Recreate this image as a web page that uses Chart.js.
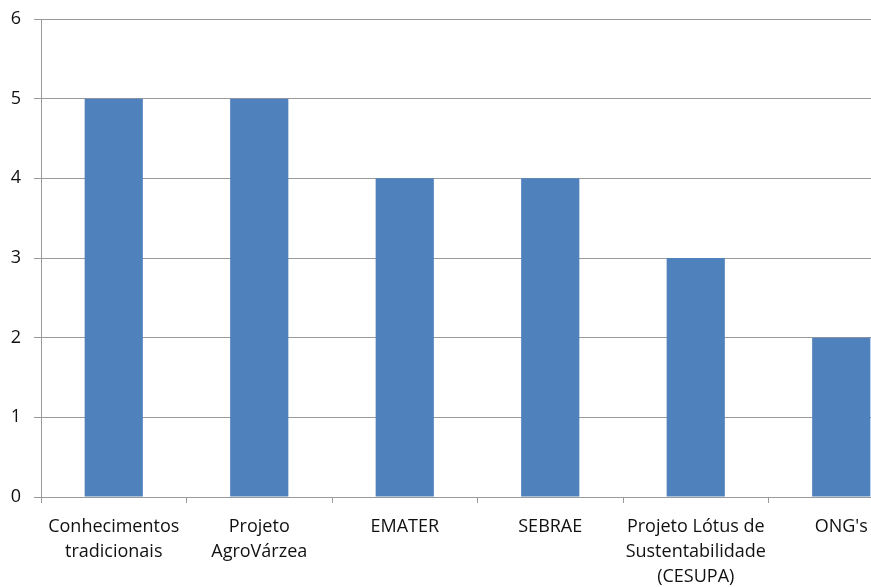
<!DOCTYPE html>
<html>
<head>
<meta charset="utf-8">
<script src="https://cdn.jsdelivr.net/npm/chart.js@4"></script>
<style>
  html, body { margin:0; padding:0; background:#fff; overflow:hidden; }
  #wrap { width:940px; height:587px; }
</style>
</head>
<body>
<div id="wrap"><canvas id="grafico" width="940" height="587"></canvas></div>
<script>
// dados do gráfico
const categorias = [
    ["Conhecimentos", "tradicionais"],
    ["Projeto", "AgroVárzea"],
    "EMATER",
    "SEBRAE",
    ["Projeto Lótus de", "Sustentabilidade", "(CESUPA)"],
    "ONG's"
];
const valores = [5, 5, 4, 4, 3, 2];
const eixoY = { min: 0, max: 6, passo: 1 };

const corLinha = '#9a9a9a';
const familia = "'Open Sans', 'DejaVu Sans', sans-serif";

new Chart(document.getElementById("grafico"), {
    type: "bar",
    data: {
        labels: categorias,
        datasets: [{
            data: valores,
            backgroundColor: '#4F81BD',
            borderWidth: 0,
            barPercentage: 0.4,
            categoryPercentage: 1
        }]
    },
    options: {
        responsive: false,
        animation: false,
        layout: { padding: { top: 19, right: 26, left: 0, bottom: 0 } },
        plugins: { legend: { display: false }, tooltip: { enabled: false } },
        scales: {
            x: {
                afterFit: (s) => { s.height = 90; },
                border: { color: corLinha, width: 1 },
                grid: { drawOnChartArea: false, offset: true, tickLength: 6, color: corLinha },
                ticks: {
                    color: '#111', font: { family: familia, size: 18, lineHeight: 1.4 },
                    padding: 11, maxRotation: 0, autoSkip: false
                }
            },
            y: {
                min: eixoY.min,
                max: eixoY.max,
                afterFit: (s) => { s.width = 41; s.paddingTop = 0; s.paddingBottom = 0; },
                border: { color: corLinha, width: 1 },
                grid: { color: corLinha, tickLength: 7 },
                ticks: { stepSize: eixoY.passo, color: '#111', font: { family: familia, size: 18 }, padding: 13 }
            }
        }
    }
});
</script>
</body>
</html>
